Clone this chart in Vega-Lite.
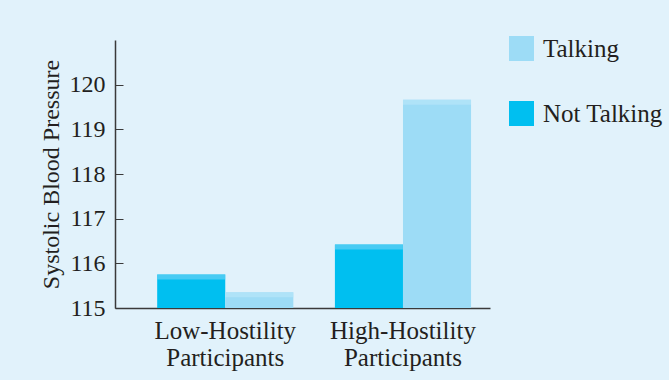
{
  "$schema": "https://vega.github.io/schema/vega-lite/v6.json",
  "width": 375,
  "height": 268,
  "autosize": {"type": "none"},
  "padding": {"left": 115, "top": 40, "right": 179, "bottom": 72},
  "background": "#e1f2fb",
  "config": {
    "font": "Liberation Serif",
    "view": {"stroke": null},
    "axis": {"domainColor": "#3a3a3a", "tickColor": "#3a3a3a", "labelColor": "#231f20", "titleColor": "#231f20", "domainWidth": 1.5}
  },
  "data": {
    "values": [
      {"group": "Low-Hostility Participants", "condition": "Not Talking", "bp": 115.75},
      {"group": "Low-Hostility Participants", "condition": "Talking", "bp": 115.35},
      {"group": "High-Hostility Participants", "condition": "Not Talking", "bp": 116.42},
      {"group": "High-Hostility Participants", "condition": "Talking", "bp": 119.66}
    ]
  },
  "encoding": {
    "x": {
      "field": "group", "type": "nominal",
      "sort": ["Low-Hostility Participants", "High-Hostility Participants"],
      "scale": {"paddingInner": 0.234, "paddingOuter": 0.172, "align": 0.69},
      "axis": {
        "title": null, "ticks": false, "labelAngle": 0,
        "labelExpr": "split(datum.value, ' ')",
        "labelFontSize": 25, "labelLineHeight": 27, "labelPadding": 10
      }
    },
    "xOffset": {
      "field": "condition", "type": "nominal",
      "sort": ["Not Talking", "Talking"],
      "scale": {"paddingInner": 0, "paddingOuter": 0}
    }
  },
  "layer": [
    {
      "mark": {"type": "bar"},
      "encoding": {
        "y": {
          "field": "bp", "type": "quantitative",
          "scale": {"domain": [115, 121], "zero": false, "nice": false},
          "axis": {
            "title": "Systolic Blood Pressure", "titleFontSize": 24, "titleFontWeight": "normal",
            "titlePadding": 6,
            "values": [115, 116, 117, 118, 119, 120], "grid": false,
            "tickSize": -8, "labelPadding": 18, "labelFontSize": 24
          }
        },
        "y2": {"datum": 115},
        "color": {
          "field": "condition", "type": "nominal",
          "scale": {"domain": ["Talking", "Not Talking"], "range": ["#9ddcf6", "#00bff0"]},
          "legend": {
            "title": null, "orient": "none", "legendX": 394, "legendY": -4,
            "symbolType": "square", "symbolSize": 625, "symbolStrokeWidth": 0,
            "labelFontSize": 25, "labelColor": "#231f20", "labelOffset": 9, "rowPadding": 39
          }
        }
      }
    },
    {
      "mark": {"type": "tick", "thickness": 5, "yOffset": 2.5, "size": 68},
      "encoding": {
        "y": {"field": "bp", "type": "quantitative"},
        "color": {
          "field": "condition", "type": "nominal",
          "scale": {"domain": ["Talking", "Not Talking"], "range": ["#b6e6f9", "#66d0f4"]},
          "legend": null
        }
      }
    }
  ],
  "resolve": {"scale": {"color": "independent"}}
}
